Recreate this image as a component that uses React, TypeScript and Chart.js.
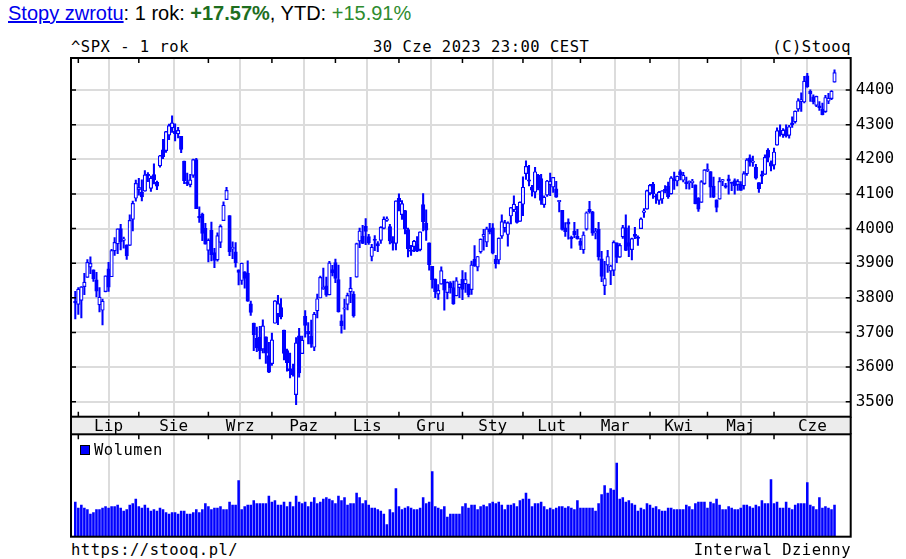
import React, { useEffect, useRef } from "react";
import { Chart, registerables } from "chart.js";

Chart.register(...registerables);

// ---- data ----
const monthLabels = ["Lip", "Sie", "Wrz", "Paz", "Lis", "Gru", "Sty", "Lut", "Mar", "Kwi", "Maj", "Cze"];
const monthStartIndex = [1, 21, 44, 65, 86, 107, 128, 148, 167, 190, 209, 231];
const priceTicks = [3500, 3600, 3700, 3800, 3900, 4000, 4100, 4200, 4300, 4400];

const openPrices = [
  3785.99, 3781.0, 3792.61, 3831.98, 3858.85, 3888.26, 3880.94, 3851.95, 3779.67, 3763.99,
  3818.0, 3883.79, 3860.73, 3935.32, 3955.47, 4000.2, 3965.72, 3953.22, 3951.43, 4026.13,
  4087.33, 4112.38, 4104.21, 4107.96, 4154.85, 4115.87, 4155.93, 4133.11, 4181.02, 4227.4,
  4225.02, 4269.37, 4290.46, 4280.4, 4273.13, 4266.31, 4195.08, 4133.09, 4126.55, 4153.26,
  4198.74, 4034.58, 4041.25, 4000.67, 3936.73, 3994.66, 3930.89, 3909.43, 3959.94, 4022.94,
  4083.67, 4037.12, 3940.73, 3932.41, 3880.95, 3849.91, 3875.23, 3871.4, 3782.36, 3727.14,
  3682.72, 3686.44, 3651.94, 3687.01, 3633.48, 3609.78, 3726.46, 3753.25, 3771.97, 3706.74,
  3647.51, 3595.86, 3590.83, 3520.37, 3690.41, 3638.65, 3746.26, 3703.11, 3689.05, 3657.1,
  3762.01, 3799.44, 3825.97, 3834.69, 3808.26, 3881.85, 3901.79, 3852.9, 3733.25, 3766.98,
  3780.71, 3817.02, 3810.94, 3859.89, 3963.72, 3977.97, 4006.41, 3976.82, 3919.26, 3966.39,
  3956.23, 3965.51, 4000.3, 4023.34, 4005.36, 3964.19, 3957.18, 4087.14, 4040.17, 4052.02,
  3996.63, 3937.38, 3947.79, 3954.17, 3939.29, 4069.38, 4015.54, 3958.37, 3890.91, 3853.79,
  3810.47, 3839.49, 3853.26, 3815.11, 3843.34, 3829.56, 3805.45, 3829.06, 3853.29, 3840.36,
  3839.74, 3823.37, 3910.82, 3888.57, 3932.35, 3977.57, 3960.6, 3999.28, 4002.25, 3911.84,
  3909.04, 3978.14, 4001.74, 3982.71, 4036.08, 4053.72, 4049.27, 4020.85, 4070.07, 4158.68,
  4136.69, 4119.57, 4105.35, 4153.47, 4144.25, 4068.92, 4096.62, 4126.7, 4119.5, 4114.75,
  4077.39, 4052.35, 4001.83, 4018.6, 3973.24, 3992.36, 3977.19, 3963.34, 3938.68, 3998.02,
  4055.15, 4048.26, 3987.55, 3998.66, 3912.77, 3835.12, 3894.01, 3876.74, 3878.93, 3958.69,
  3917.47, 3975.89, 4002.04, 3959.21, 3939.21, 3982.93, 3974.13, 3999.53, 4046.74, 4056.18,
  4102.2, 4128.03, 4094.5, 4081.15, 4085.2, 4110.29, 4121.72, 4100.04, 4140.11, 4137.17,
  4164.26, 4139.33, 4130.48, 4132.14, 4132.07, 4126.43, 4087.78, 4075.29, 4129.63, 4166.79,
  4164.1, 4122.25, 4082.61, 4084.73, 4136.98, 4124.25, 4143.74, 4132.24, 4138.54, 4126.65,
  4127.95, 4122.85, 4157.68, 4204.15, 4190.78, 4176.8, 4132.96, 4155.71, 4156.16, 4226.71,
  4190.74, 4183.03, 4241.01, 4282.99, 4271.34, 4285.47, 4268.69, 4304.88, 4308.32, 4344.84,
  4366.29, 4365.33, 4440.95, 4396.11, 4380.01, 4355.4, 4354.17, 4344.83, 4337.36, 4367.48,
  4374.94, 4422.44,
];

const highPrices = [
  3818.99, 3829.82, 3832.19, 3870.91, 3910.63, 3918.5, 3880.94, 3873.41, 3829.44, 3796.41,
  3863.62, 3902.44, 3939.81, 3974.13, 3999.29, 4012.44, 3975.3, 3953.22, 4039.56, 4078.95,
  4140.15, 4144.95, 4140.47, 4167.66, 4161.29, 4151.58, 4186.62, 4137.3, 4211.03, 4257.91,
  4280.47, 4301.79, 4325.28, 4302.18, 4292.53, 4266.31, 4195.08, 4159.77, 4156.56, 4200.54,
  4203.04, 4062.99, 4044.98, 4015.37, 3970.23, 4018.43, 3942.55, 3987.89, 4010.5, 4076.81,
  4119.28, 4037.12, 3961.94, 3959.14, 3880.95, 3900.45, 3876.01, 3907.07, 3790.68, 3727.14,
  3715.67, 3717.53, 3736.74, 3687.01, 3671.44, 3698.35, 3791.92, 3806.91, 3797.93, 3706.74,
  3652.17, 3640.66, 3608.34, 3685.41, 3712.0, 3689.73, 3762.79, 3728.58, 3736.0, 3757.89,
  3810.74, 3862.85, 3886.15, 3859.95, 3905.42, 3893.73, 3911.79, 3894.44, 3750.59, 3796.34,
  3813.95, 3859.4, 3818.2, 3958.33, 4001.48, 4008.97, 4028.84, 3983.09, 3954.33, 3979.89,
  3962.0, 4005.88, 4033.78, 4034.02, 4012.27, 3976.77, 4080.11, 4100.51, 4080.48, 4052.45,
  4001.51, 3951.43, 3966.22, 3977.02, 3990.71, 4100.96, 4053.76, 3958.37, 3890.91, 3854.86,
  3838.24, 3889.28, 3853.26, 3845.8, 3846.65, 3848.32, 3858.19, 3839.85, 3878.46, 3873.16,
  3839.74, 3906.19, 3950.57, 3919.83, 3970.07, 3997.76, 4003.95, 4015.39, 4014.16, 3922.94,
  3972.96, 4039.31, 4023.92, 4019.55, 4061.57, 4094.21, 4063.85, 4077.16, 4148.95, 4195.44,
  4182.36, 4124.63, 4176.54, 4156.85, 4156.23, 4094.36, 4138.9, 4159.77, 4148.11, 4136.54,
  4081.51, 4052.35, 4017.37, 4028.3, 3978.25, 4018.05, 3997.5, 3971.73, 3990.84, 4048.29,
  4078.49, 4050.0, 4000.41, 4017.81, 3934.05, 3905.05, 3937.29, 3894.26, 3964.46, 3958.91,
  3956.62, 4009.08, 4039.49, 4007.66, 3972.74, 4003.83, 3979.2, 4030.59, 4057.85, 4110.75,
  4127.66, 4133.13, 4099.69, 4107.32, 4109.5, 4124.26, 4134.37, 4150.26, 4163.19, 4151.72,
  4169.48, 4162.57, 4148.57, 4138.02, 4142.41, 4126.43, 4089.67, 4138.24, 4170.06, 4186.92,
  4164.1, 4148.3, 4082.61, 4147.02, 4142.3, 4130.35, 4154.28, 4132.8, 4143.74, 4141.25,
  4135.54, 4164.67, 4202.2, 4212.91, 4209.22, 4185.68, 4132.96, 4165.74, 4212.87, 4231.1,
  4195.44, 4232.43, 4290.67, 4299.28, 4288.33, 4299.19, 4298.01, 4322.62, 4340.13, 4375.37,
  4391.82, 4439.2, 4448.47, 4400.15, 4386.22, 4382.25, 4366.55, 4362.06, 4384.42, 4390.35,
  4398.39, 4458.48,
];

const lowPrices = [
  3738.67, 3752.1, 3742.06, 3809.37, 3858.85, 3869.34, 3847.22, 3802.36, 3759.07, 3721.56,
  3817.18, 3818.63, 3860.73, 3922.03, 3927.64, 3938.27, 3943.46, 3910.74, 3951.43, 3992.97,
  4079.22, 4096.02, 4079.81, 4107.96, 4135.42, 4107.31, 4128.97, 4112.09, 4177.26, 4201.41,
  4219.78, 4256.9, 4277.77, 4253.08, 4261.98, 4218.7, 4129.86, 4124.03, 4119.97, 4147.59,
  4057.66, 4017.42, 3965.21, 3954.53, 3903.65, 3906.21, 3886.75, 3906.03, 3944.81, 4022.94,
  4083.67, 3921.37, 3912.79, 3888.28, 3837.08, 3838.5, 3827.54, 3789.49, 3749.45, 3647.47,
  3644.76, 3623.29, 3640.61, 3610.4, 3584.13, 3604.93, 3726.46, 3722.66, 3739.22, 3620.73,
  3588.1, 3568.45, 3573.86, 3491.58, 3570.82, 3638.65, 3686.53, 3666.51, 3656.44, 3647.42,
  3741.65, 3799.44, 3824.07, 3803.79, 3808.26, 3863.18, 3843.8, 3758.68, 3698.15, 3708.84,
  3764.7, 3786.28, 3744.22, 3859.89, 3944.82, 3956.4, 3953.17, 3954.34, 3906.54, 3935.98,
  3933.34, 3956.88, 3998.66, 4020.76, 3955.77, 3937.65, 3938.58, 4050.87, 4026.63, 3984.49,
  3918.39, 3922.04, 3933.16, 3933.04, 3935.3, 3993.03, 3965.65, 3879.45, 3827.91, 3800.04,
  3795.62, 3839.49, 3764.49, 3797.01, 3813.22, 3780.78, 3805.45, 3800.34, 3794.33, 3815.77,
  3802.42, 3809.56, 3890.42, 3877.29, 3928.54, 3937.56, 3947.67, 3984.57, 3926.59, 3885.54,
  3897.86, 3971.64, 3989.79, 3949.06, 4013.29, 4048.7, 4015.55, 4020.44, 4037.2, 4141.88,
  4123.36, 4093.38, 4088.39, 4111.67, 4069.67, 4060.79, 4092.67, 4095.01, 4103.98, 4089.49,
  4047.95, 3995.19, 3976.9, 3969.19, 3943.08, 3973.55, 3968.98, 3939.05, 3928.16, 3995.17,
  4044.61, 3980.31, 3969.76, 3908.7, 3846.32, 3808.86, 3873.63, 3838.24, 3864.11, 3901.27,
  3916.89, 3971.19, 3936.17, 3919.05, 3909.16, 3970.49, 3951.53, 3999.53, 4032.1, 4056.18,
  4097.38, 4086.87, 4072.56, 4069.84, 4072.55, 4102.61, 4086.94, 4099.4, 4113.2, 4123.18,
  4140.36, 4134.49, 4114.57, 4113.86, 4117.77, 4071.38, 4049.35, 4075.29, 4127.18, 4164.12,
  4089.72, 4088.86, 4048.28, 4084.73, 4123.81, 4116.65, 4098.92, 4109.29, 4099.12, 4110.27,
  4109.86, 4113.62, 4153.5, 4180.2, 4179.68, 4142.54, 4103.98, 4129.73, 4156.16, 4192.18,
  4166.15, 4171.64, 4241.01, 4266.82, 4263.09, 4263.96, 4261.07, 4291.7, 4304.37, 4337.85,
  4337.85, 4362.6, 4407.44, 4367.19, 4360.14, 4351.82, 4341.34, 4328.08, 4335.0, 4360.22,
  4371.97, 4422.44,
];

const closePrices = [
  3785.38, 3825.33, 3831.39, 3845.08, 3902.62, 3899.38, 3854.43, 3818.8, 3801.78, 3790.38,
  3863.16, 3830.85, 3936.69, 3959.9, 3998.95, 3961.63, 3966.84, 3921.05, 4023.61, 4072.43,
  4130.29, 4118.63, 4091.19, 4155.17, 4151.94, 4145.19, 4140.06, 4122.47, 4210.24, 4207.27,
  4280.15, 4297.14, 4305.2, 4274.04, 4283.74, 4228.48, 4137.99, 4128.73, 4140.77, 4199.12,
  4057.66, 4030.61, 3986.16, 3955.0, 3966.85, 3924.26, 3908.19, 3979.87, 4006.18, 4067.36,
  4110.41, 3932.69, 3946.01, 3901.35, 3873.33, 3899.89, 3855.93, 3789.93, 3757.99, 3693.23,
  3655.04, 3647.29, 3719.04, 3640.47, 3585.62, 3678.43, 3790.93, 3783.28, 3744.52, 3639.66,
  3612.39, 3588.84, 3577.03, 3669.91, 3583.07, 3677.95, 3719.98, 3695.16, 3665.78, 3752.75,
  3797.34, 3859.11, 3830.6, 3807.3, 3901.06, 3871.98, 3856.1, 3759.69, 3719.89, 3770.55,
  3806.8, 3828.11, 3748.57, 3956.37, 3992.93, 3957.25, 3991.73, 3958.79, 3946.56, 3965.34,
  3949.94, 4003.58, 4027.26, 4026.12, 3963.94, 3957.63, 4080.11, 4076.57, 4071.7, 3998.84,
  3941.26, 3933.92, 3963.51, 3934.38, 3990.56, 4019.65, 3995.32, 3895.75, 3852.36, 3817.66,
  3821.62, 3878.44, 3822.39, 3844.82, 3829.25, 3783.22, 3849.28, 3839.5, 3824.14, 3852.97,
  3808.1, 3895.08, 3892.09, 3919.25, 3969.61, 3983.17, 3999.09, 3990.97, 3928.86, 3898.85,
  3972.61, 4019.81, 4016.95, 4016.22, 4060.43, 4070.56, 4017.77, 4076.6, 4119.21, 4179.76,
  4136.48, 4111.08, 4164.0, 4117.86, 4081.5, 4090.46, 4137.29, 4136.13, 4147.6, 4090.41,
  4079.09, 3997.34, 3991.05, 4012.32, 3970.04, 3982.24, 3970.15, 3951.39, 3981.35, 4045.64,
  4048.42, 3986.37, 3992.01, 3918.32, 3861.59, 3855.76, 3919.29, 3891.93, 3960.28, 3916.64,
  3951.57, 4002.87, 3936.97, 3948.72, 3970.99, 3977.53, 3971.27, 4027.81, 4050.83, 4109.31,
  4124.51, 4100.6, 4090.38, 4105.02, 4109.11, 4108.94, 4091.95, 4146.22, 4137.64, 4151.32,
  4154.87, 4154.52, 4129.79, 4133.52, 4137.04, 4071.63, 4055.99, 4135.35, 4169.48, 4167.87,
  4119.58, 4090.75, 4061.22, 4136.25, 4138.12, 4119.17, 4137.64, 4130.62, 4124.08, 4136.28,
  4109.9, 4158.77, 4198.05, 4191.98, 4192.63, 4145.58, 4115.24, 4151.28, 4205.45, 4205.52,
  4179.83, 4221.02, 4282.37, 4273.79, 4283.85, 4267.52, 4293.93, 4298.86, 4338.93, 4369.01,
  4372.59, 4425.84, 4409.59, 4388.71, 4365.69, 4381.89, 4348.33, 4328.82, 4378.41, 4376.86,
  4396.44, 4450.38,
];

const volumes = [
  1040, 860, 950, 860, 810, 680, 720, 810, 810, 860,
  900, 860, 900, 900, 950, 860, 770, 810, 950, 990,
  1130, 900, 860, 950, 860, 770, 810, 770, 860, 810,
  720, 680, 720, 720, 680, 770, 770, 680, 680, 720,
  810, 720, 810, 990, 900, 810, 860, 860, 900, 810,
  810, 1040, 950, 950, 1680, 810, 900, 950, 950, 1080,
  990, 990, 990, 990, 1220, 1040, 1080, 950, 950, 1040,
  900, 1040, 900, 1220, 1040, 990, 1040, 900, 1040, 1170,
  990, 1040, 1130, 1170, 1130, 1080, 990, 1220, 1080, 1170,
  950, 990, 990, 1310, 1170, 990, 1080, 950, 860, 860,
  810, 770, 680, 360, 810, 720, 1440, 900, 810, 860,
  900, 860, 810, 810, 860, 1170, 990, 1040, 1950, 900,
  860, 810, 900, 590, 680, 680, 680, 680, 900, 990,
  860, 950, 950, 810, 900, 950, 900, 990, 1040, 990,
  1040, 950, 810, 950, 950, 990, 900, 1080, 1130, 1310,
  1130, 900, 990, 990, 1040, 900, 810, 860, 810, 860,
  900, 900, 860, 900, 860, 810, 1080, 860, 860, 860,
  860, 860, 770, 990, 1260, 1530, 1310, 1440, 1400, 2210,
  1130, 1170, 1040, 1080, 990, 950, 770, 860, 810, 990,
  950, 860, 900, 810, 770, 770, 860, 860, 810, 810,
  810, 810, 950, 900, 810, 990, 1040, 1040, 1040, 860,
  1040, 990, 1130, 950, 810, 810, 900, 860, 810, 810,
  860, 950, 950, 900, 860, 950, 900, 1080, 990, 990,
  1710, 990, 1040, 860, 860, 1040, 860, 810, 950, 990,
  990, 990, 1620, 950, 900, 810, 1170, 860, 900, 860,
  810, 950,
];

// ---- layout constants ----
const X_MIN = -1.42;
const X_MAX = 256.35;
const Y_MIN = 3456.7;
const Y_MAX = 4492.4;
const VOL_MAX = 3072;
const BAND_H = 17.6;
const MONO = "'DejaVu Sans Mono', monospace";
const BLUE = "#0000ff";
const GRID = "#dcdcdc";

const labelPositions = monthStartIndex.map((s, k) =>
  k < monthStartIndex.length - 1 ? (s + monthStartIndex[k + 1]) / 2 : (s + X_MAX) / 2
);

const framePricePlugin = {
  id: "framePrice",
  beforeDraw(chart: any) {
    const { ctx, chartArea: a } = chart;
    ctx.save();
    ctx.fillStyle = "#ececec";
    ctx.fillRect(a.left, a.bottom, a.right - a.left, BAND_H);
    ctx.restore();
  },
  afterDraw(chart: any) {
    const { ctx, chartArea: a, scales } = chart;
    ctx.save();
    ctx.strokeStyle = "#000";
    ctx.lineWidth = 2;
    ctx.strokeRect(a.left, a.top, a.right - a.left, a.bottom - a.top);
    ctx.beginPath();
    ctx.moveTo(a.left, a.bottom);
    ctx.lineTo(a.left, a.bottom + BAND_H);
    ctx.moveTo(a.right, a.bottom);
    ctx.lineTo(a.right, a.bottom + BAND_H);
    ctx.stroke();
    ctx.lineWidth = 1.5;
    ctx.beginPath();
    for (const v of monthStartIndex) {
      const px = scales.xg.getPixelForValue(v);
      ctx.moveTo(px, a.top);
      ctx.lineTo(px, a.top + 5);
      ctx.moveTo(px, a.bottom - 5);
      ctx.lineTo(px, a.bottom);
    }
    for (const v of priceTicks) {
      const py = scales.y.getPixelForValue(v);
      ctx.moveTo(a.left, py);
      ctx.lineTo(a.left + 5, py);
      ctx.moveTo(a.right - 5, py);
      ctx.lineTo(a.right, py);
    }
    ctx.stroke();
    ctx.restore();
  },
};

const frameVolumePlugin = {
  id: "frameVolume",
  afterDraw(chart: any) {
    const { ctx, chartArea: a, scales } = chart;
    ctx.save();
    ctx.strokeStyle = "#000";
    ctx.lineWidth = 2;
    ctx.strokeRect(a.left, a.top, a.right - a.left, a.bottom - a.top);
    ctx.lineWidth = 1.5;
    ctx.beginPath();
    for (const v of monthStartIndex) {
      const px = scales.x.getPixelForValue(v);
      ctx.moveTo(px, a.top);
      ctx.lineTo(px, a.top + 5);
    }
    ctx.stroke();
    ctx.restore();
  },
};

const monoText: React.CSSProperties = {
  position: "absolute",
  fontFamily: MONO,
  fontSize: "15.5px",
  letterSpacing: "0.5px",
  lineHeight: "18px",
  whiteSpace: "pre",
  color: "#000",
};

export default function App() {
  const priceRef = useRef<HTMLCanvasElement>(null);
  const volRef = useRef<HTMLCanvasElement>(null);

  useEffect(() => {
    if (!priceRef.current || !volRef.current) return;

    const bodies = closePrices.map((c, i) => ({
      x: i,
      y: [Math.min(openPrices[i], c), Math.max(openPrices[i], c)],
    }));
    const wicks = closePrices.map((_, i) => ({ x: i, y: [lowPrices[i], highPrices[i]] }));

    const priceChart = new Chart(priceRef.current, {
      type: "bar",
      data: {
        datasets: [
          {
            label: "body",
            order: 0,
            data: bodies as any,
            xAxisID: "x",
            yAxisID: "y",
            backgroundColor: closePrices.map((c, i) => (c >= openPrices[i] ? "#ffffff" : BLUE)),
            borderColor: BLUE,
            borderWidth: 1.2,
            borderSkipped: false,
            barThickness: 3.5,
            minBarLength: 1.5,
            grouped: false,
          } as any,
          {
            label: "wick",
            order: 1,
            data: wicks as any,
            xAxisID: "x",
            yAxisID: "y",
            backgroundColor: BLUE,
            borderWidth: 0,
            barThickness: 1.4,
            grouped: false,
          } as any,
        ],
      },
      options: {
        animation: false,
        responsive: false,
        maintainAspectRatio: false,
        events: [],
        layout: { padding: { left: 71, top: 18, right: 0, bottom: 5.7 } },
        plugins: { legend: { display: false }, tooltip: { enabled: false } },
        scales: {
          x: {
            type: "linear",
            position: "bottom",
            min: X_MIN,
            max: X_MAX,
            offset: false,
            afterBuildTicks: (s: any) => {
              s.ticks = labelPositions.map((v) => ({ value: v }));
            },
            afterFit: (s: any) => {
              s.height = BAND_H;
            },
            grid: { display: false, drawTicks: false },
            border: { display: false },
            ticks: {
              autoSkip: false,
              maxRotation: 0,
              padding: 0.5,
              font: { family: MONO, size: 16 },
              color: "#000",
              callback: (_v: any, idx: number) => monthLabels[idx],
            },
          },
          xg: {
            type: "linear",
            position: "top",
            min: X_MIN,
            max: X_MAX,
            offset: false,
            afterBuildTicks: (s: any) => {
              s.ticks = monthStartIndex.map((v) => ({ value: v }));
            },
            afterFit: (s: any) => {
              s.height = 0;
            },
            grid: { color: GRID, lineWidth: 2, drawTicks: false },
            border: { display: false },
            ticks: { display: false },
          },
          y: {
            type: "linear",
            position: "right",
            min: Y_MIN,
            max: Y_MAX,
            afterBuildTicks: (s: any) => {
              s.ticks = priceTicks.map((v) => ({ value: v }));
            },
            afterFit: (s: any) => {
              s.width = 906 - 850.7;
            },
            grid: { color: GRID, lineWidth: 2, drawTicks: false },
            border: { display: false },
            ticks: {
              padding: 5,
              font: { family: MONO, size: 16 },
              color: "#000",
              callback: (v: any) => String(v),
            },
          },
        } as any,
      },
      plugins: [framePricePlugin],
    });

    const volChart = new Chart(volRef.current, {
      type: "bar",
      data: {
        datasets: [
          {
            label: "Wolumen",
            data: volumes.map((v, i) => ({ x: i, y: v })) as any,
            xAxisID: "x",
            yAxisID: "y",
            backgroundColor: BLUE,
            borderWidth: 0,
            barThickness: 1.9,
            grouped: false,
          } as any,
        ],
      },
      options: {
        animation: false,
        responsive: false,
        maintainAspectRatio: false,
        events: [],
        layout: { padding: { left: 71, right: 906 - 850.7, top: 2.3, bottom: 3.3 } },
        plugins: { legend: { display: false }, tooltip: { enabled: false } },
        scales: {
          x: {
            type: "linear",
            position: "bottom",
            min: X_MIN,
            max: X_MAX,
            offset: false,
            afterBuildTicks: (s: any) => {
              s.ticks = monthStartIndex.map((v) => ({ value: v }));
            },
            afterFit: (s: any) => {
              s.height = 0;
            },
            grid: { color: GRID, lineWidth: 2, drawTicks: false },
            border: { display: false },
            ticks: { display: false },
          },
          y: { type: "linear", min: 0, max: VOL_MAX, display: false },
        } as any,
      },
      plugins: [frameVolumePlugin],
    });

    return () => {
      priceChart.destroy();
      volChart.destroy();
    };
  }, []);

  return (
    <div style={{ position: "absolute", left: 0, top: 0, width: 906, height: 559, background: "#fff" }}>
      <div
        style={{
          position: "absolute",
          left: 8,
          top: 2,
          fontFamily: "Arial, 'Liberation Sans', sans-serif",
          fontSize: "20px",
          whiteSpace: "pre",
          color: "#000",
        }}
      >
        <a href="#" style={{ color: "#0000ee", textDecoration: "underline" }}>
          Stopy zwrotu
        </a>
        {": 1 rok: "}
        <b style={{ color: "#1e6e1e" }}>+17.57%</b>
        {", YTD: "}
        <span style={{ color: "#2e8b2e" }}>+15.91%</span>
      </div>

      <div style={{ ...monoText, left: 71, top: 38 }}>^SPX - 1 rok</div>
      <div style={{ ...monoText, left: 373, top: 38 }}>30 Cze 2023 23:00 CEST</div>
      <div style={{ ...monoText, left: 0, width: 851, textAlign: "right", top: 38 }}>(C)Stooq</div>

      <canvas
        ref={priceRef}
        width={906}
        height={400}
        style={{ position: "absolute", left: 0, top: 40, width: 906, height: 400 }}
      />
      <canvas
        ref={volRef}
        width={906}
        height={108}
        style={{ position: "absolute", left: 0, top: 432, width: 906, height: 108 }}
      />

      <div
        style={{
          position: "absolute",
          left: 80,
          top: 445,
          width: 10,
          height: 10,
          boxSizing: "border-box",
          border: "1px solid #000",
          background: BLUE,
        }}
      />
      <div style={{ ...monoText, left: 94, top: 441 }}>Wolumen</div>

      <div style={{ ...monoText, left: 71, top: 541 }}>https://stooq.pl/</div>
      <div style={{ ...monoText, left: 0, width: 851, textAlign: "right", top: 541 }}>Interwal Dzienny</div>
    </div>
  );
}
